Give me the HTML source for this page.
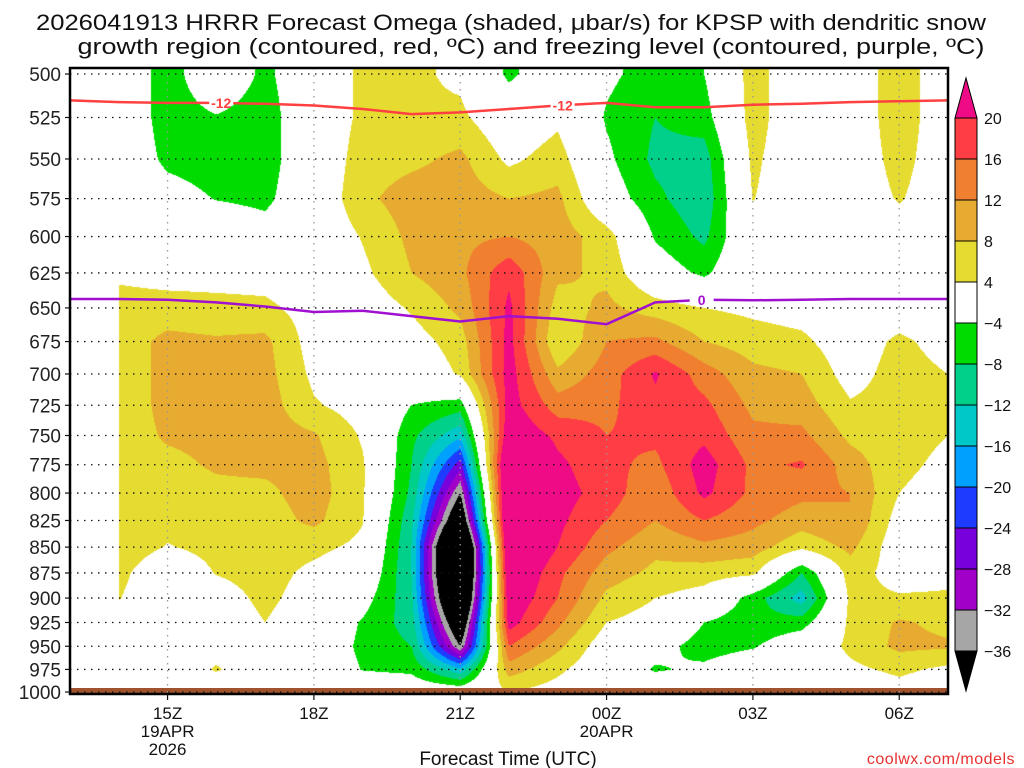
<!DOCTYPE html>
<html><head><meta charset="utf-8"><style>
html,body{margin:0;padding:0;background:#fff;width:1024px;height:768px;overflow:hidden}
#wrap{position:relative;width:1024px;height:768px;font-family:"Liberation Sans",sans-serif;color:#111}
canvas{position:absolute;left:0;top:0}
svg{position:absolute;left:0;top:0}
</style></head><body>
<div id="wrap">
<canvas id="cv" width="1024" height="768"></canvas>
<svg id="sv" width="1024" height="768"></svg>
</div>
<script>
// ---- data ----
const hours = [13,14,15,16,17,18,19,20,21,22,23,24,25,26,27,28,29,30,31];
const levels = [500,525,550,575,600,625,650,675,700,725,750,775,800,825,850,875,900,925,950,975,1000];
// omega columns (one per hour), values top (500) to bottom (1000); null = no data
const omega13 = [null,null,null,null,null,null,null,null,null,null,null,null,null,null,null,null,null,null,null,null,null];
const omega14 = [0,0,0,0,0,3,6,6,6,6,6,6,6,6,6,5,4.2,2,0,0,0];
const omega15 = [-6,-6,-5,-2,0,2,6,9,9,9,8.5,7,6,5,3.8,1,0.5,0,0,0,0];
const omega16 = [0,-4.3,-6,-4.2,0,2,5.5,8.5,9,9,9,8.5,7,6,5,4.2,2,1,2,4.5,0];
const omega17 = [-5,-6,-6,-5,-2,2,5,9,9.5,10,10,9,7,6,6,5.5,5,4,1,0,0];
const omega18 = [0,0,0,0,0,1,2,2,3,4.5,8.5,9.5,10,9,5,3,2,1,0,0,0];
const omega19 = [5,5,6,7,4.3,3,1,0,0,2,3.5,4.5,4.5,4.2,3,1,-2,-4.5,-5,-4.2,0];
const omega20 = [5,4.5,7,10,9,8,4.5,2,0,-4,-7,-8,-9,-11,-12,-12,-11,-10,-8,-5,0];
const omega21 = [3,5,9,10,11,11,9,6,4.5,-6,-15,-26,-36,-45,-60,-60,-55,-45,-36,-15,0];
const omega22 = [-5,0,3,8,12,19,21,21.5,22,22,24,30,30,30,28,26,24,22,16,10,4];
const omega23 = [0,3,6,9,10,9,6,4,9,14,19,21,22,21,20,17,16,13,9,5,2];
const omega24 = [-3,-4.5,-3,-1,6,7,9,12,14,15,16,17,18,16,13,10,7,4,1,0,0];
const omega25 = [-6,-8,-9,-7,-4.5,-1,6,13,20.5,19,17,15,13,12,9,7,4,2,-2,-4.5,0];
const omega26 = [-4,-6,-10,-11,-9,-5,4,8,14,17,19,22,21,16,11,6,2,-4,-6,-3,0];
const omega27 = [6,6,5,4.2,2,2,3,6,9,11,13,15,15,13,10,5,-6,-7,-4.5,0,0];
const omega28 = [0,0,0,0,0,1,2,5,8,10,13,16.5,13,10,5,-8,-14,-6,0,0,0];
const omega29 = [0,0,0,0,0,0,0,1,2,4.5,7,10,12,12,9,6,5,5,5,3,0];
const omega30 = [7,7,6,4.5,1,0,1,5,6,6,5.5,5,4,2,1,2,4.5,8.5,9,5,2];
const omega31 = [0,0,0,0,0,0,0,2,4,4.5,4,3,2,2,2,3,4.5,7,8.5,3,0];
const omegaCols = [omega13,omega14,omega15,omega16,omega17,omega18,omega19,omega20,omega21,omega22,omega23,omega24,omega25,omega26,omega27,omega28,omega29,omega30,omega31];
// -12C contour pressure (hPa) per hour
const redLineP = [515,516,516.5,516.5,517,518,520,523,522,520,518,516.5,519,519,517.5,517,516,515.5,515];
// 0C freezing level pressure (hPa) per hour
const purpleLineP = [643.5,643.5,644,646,649,653,652,656,660,656,658,662,646,644,644.5,644,643.5,643.5,643.5];
const yTicks = [500,525,550,575,600,625,650,675,700,725,750,775,800,825,850,875,900,925,950,975,1000];
const xTickHours = [15,18,21,24,27,30];
const xTickLabels = ["15Z","18Z","21Z","00Z","03Z","06Z"];
const cbLabels = ["20","16","12","8","4","\u22124","\u22128","\u221212","\u221216","\u221220","\u221224","\u221228","\u221232","\u221236"];
const bounds = [20,16,12,8,4,-4,-8,-12,-16,-20,-24,-28,-32,-36];
const colors = ["#ee0b85","#ff3d44","#f08030","#e6ab30","#e6db30","#ffffff","#00dc00","#00d08a","#00c8c8","#00a0ff","#1e3cff","#7800dc","#a000c8","#a6a6a6","#000000"];

// ---- axes ----
const L=70,R=948,T=68,B=694, PY0=74, PY1=692;
const xOf = h => L + (h-13)*(R-L)/18;
const yOf = p => PY0 + Math.log(p/500)/Math.log(2)*(PY1-PY0);
function hex(c){return [parseInt(c.substr(1,2),16),parseInt(c.substr(3,2),16),parseInt(c.substr(5,2),16)];}
const rgb = colors.map(hex);
function idxFor(v){for(let i=0;i<bounds.length;i++){if(v>=bounds[i])return i;}return 14;}

// ---- shading ----
const cv=document.getElementById('cv'),ctx=cv.getContext('2d');
const W=R-L,H=B-T;
const img=ctx.createImageData(W,H);
const ly=levels.map(yOf);
for(let py=0;py<H;py++){
  const y=T+py+0.5;
  let j=0;while(j<levels.length-2&&y>ly[j+1])j++;
  let fy=(y-ly[j])/(ly[j+1]-ly[j]);fy=Math.max(0,Math.min(1,fy));
  for(let px=0;px<W;px++){
    const hx=13+(px+0.5)*18/W;
    let i=Math.min(17,Math.floor(hx-13));const fx=hx-13-i;
    const a=omegaCols[i][j],b=omegaCols[i+1][j],c=omegaCols[i][j+1],d=omegaCols[i+1][j+1];
    let col;
    if(a===null||b===null||c===null||d===null){col=rgb[5];}
    else{const v=a*(1-fx)*(1-fy)+b*fx*(1-fy)+c*(1-fx)*fy+d*fx*fy;col=rgb[idxFor(v)];}
    const k=(py*W+px)*4;
    img.data[k]=col[0];img.data[k+1]=col[1];img.data[k+2]=col[2];img.data[k+3]=255;
  }
}
ctx.putImageData(img,L,T);

// ---- svg overlay ----
const NS="http://www.w3.org/2000/svg";
const sv=document.getElementById('sv');
function mk(tag,attrs,parent){const e=document.createElementNS(NS,tag);for(const k in attrs)e.setAttribute(k,attrs[k]);(parent||sv).appendChild(e);return e;}
function txt(x,y,s,size,anchor,fill,parent){const t=mk('text',{x:x,y:y,'font-size':size,'text-anchor':anchor||'middle',fill:fill||'#111','font-family':'Liberation Sans, sans-serif'},parent);t.textContent=s;return t;}

// surface terrain
const terr=mk('rect',{x:L,y:688,width:W,height:B-688,fill:'#a0522d'});



// grid
yTicks.forEach(p=>{
  const g=mk('line',{x1:L,x2:R,y1:yOf(p),y2:yOf(p),stroke:'#111','stroke-width':1.3,'stroke-dasharray':'1.5 5.5'});
  
  
});
xTickHours.forEach(h=>{
  const g=mk('line',{x1:xOf(h),x2:xOf(h),y1:T,y2:B,stroke:'#999','stroke-width':1.3,'stroke-dasharray':'1.5 5.5'});
  
  
});

// contour lines
function linePath(arr){return arr.map((p,i)=>(i?'L':'M')+xOf(hours[i]).toFixed(1)+' '+yOf(p).toFixed(1)).join(' ');}
const rl=mk('path',{d:linePath(redLineP),stroke:'#ff4040',fill:'none','stroke-width':2.5});


const pl=mk('path',{d:linePath(purpleLineP),stroke:'#a010d0',fill:'none','stroke-width':2.5});


function lineLabel(h,arr,s,col,name){
  const i=hours.indexOf(Math.floor(h));const f=h-Math.floor(h);
  const p=arr[i]*(1-f)+arr[Math.min(i+1,arr.length-1)]*f;
  const x=xOf(h),y=yOf(p);
  mk('line',{x1:x-12,x2:x+12,y1:y,y2:y,stroke:'#fff','stroke-width':5});
  const t=txt(x,y+5,s,14,'middle',col);t.setAttribute('font-weight','bold');
  
  
}
lineLabel(16.1,redLineP,'-12','#ff4040','red-contour-label-1');
lineLabel(23.1,redLineP,'-12','#ff4040','red-contour-label-2');
lineLabel(25.95,purpleLineP,'0','#a010d0','freezing-contour-label');

// frame
const fr=mk('rect',{x:L,y:T,width:W,height:B-T,fill:'none',stroke:'#000','stroke-width':2.5});



// y ticks
yTicks.forEach(p=>{
  mk('line',{x1:L-5,x2:L,y1:yOf(p),y2:yOf(p),stroke:'#111','stroke-width':1.2});
  const t=txt(61,yOf(p)+7,String(p),19,'end','#222');
  
  
});
// x ticks
xTickHours.forEach((h,i)=>{
  mk('line',{x1:xOf(h),x2:xOf(h),y1:B,y2:B+6,stroke:'#111','stroke-width':1.2});
  const t=txt(xOf(h),719,xTickLabels[i],17,'middle','#111');
  
  
});
[[15,'19APR',737],[15,'2026',755],[24,'20APR',737]].forEach(d=>{
  const t=txt(xOf(d[0]),d[2],d[1],17,'middle','#111');
  
  
});
const xt=txt(508,765,'Forecast Time (UTC)',19,'middle','#111');


const cr=txt(1015,764,'coolwx.com/models',16,'end','#e83030');


cr.setAttribute('letter-spacing','0.5');

// title
const t1=txt(511,30,'2026041913 HRRR Forecast Omega (shaded, \u03bcbar/s) for KPSP with dendritic snow',22,'middle','#111');
t1.setAttribute('textLength','950');
t1.setAttribute('lengthAdjust','spacingAndGlyphs');


const t2=txt(531,54,'growth region (contoured, red, \u00baC) and freezing level (contoured, purple, \u00baC)',22,'middle','#111');
t2.setAttribute('textLength','907');
t2.setAttribute('lengthAdjust','spacingAndGlyphs');



// colorbar
const cbX=955,cbW=22,cbTop=118,cbH=41;
const tri1=mk('polygon',{points:`${cbX},${cbTop} ${cbX+cbW},${cbTop} ${cbX+cbW/2},78`,fill:colors[0],stroke:'#000','stroke-width':1});


for(let i=1;i<=13;i++){
  const r=mk('rect',{x:cbX,y:cbTop+(i-1)*cbH,width:cbW,height:cbH,fill:colors[i],stroke:'#000','stroke-width':1});
  
  
}
const yb=cbTop+13*cbH;
const tri2=mk('polygon',{points:`${cbX},${yb} ${cbX+cbW},${yb} ${cbX+cbW/2},${yb+40}`,fill:'#000',stroke:'#000','stroke-width':1});


cbLabels.forEach((s,i)=>{
  const t=txt(984,cbTop+i*cbH+6,s,16,'start','#111');
  
  
});
</script>
</body></html>
